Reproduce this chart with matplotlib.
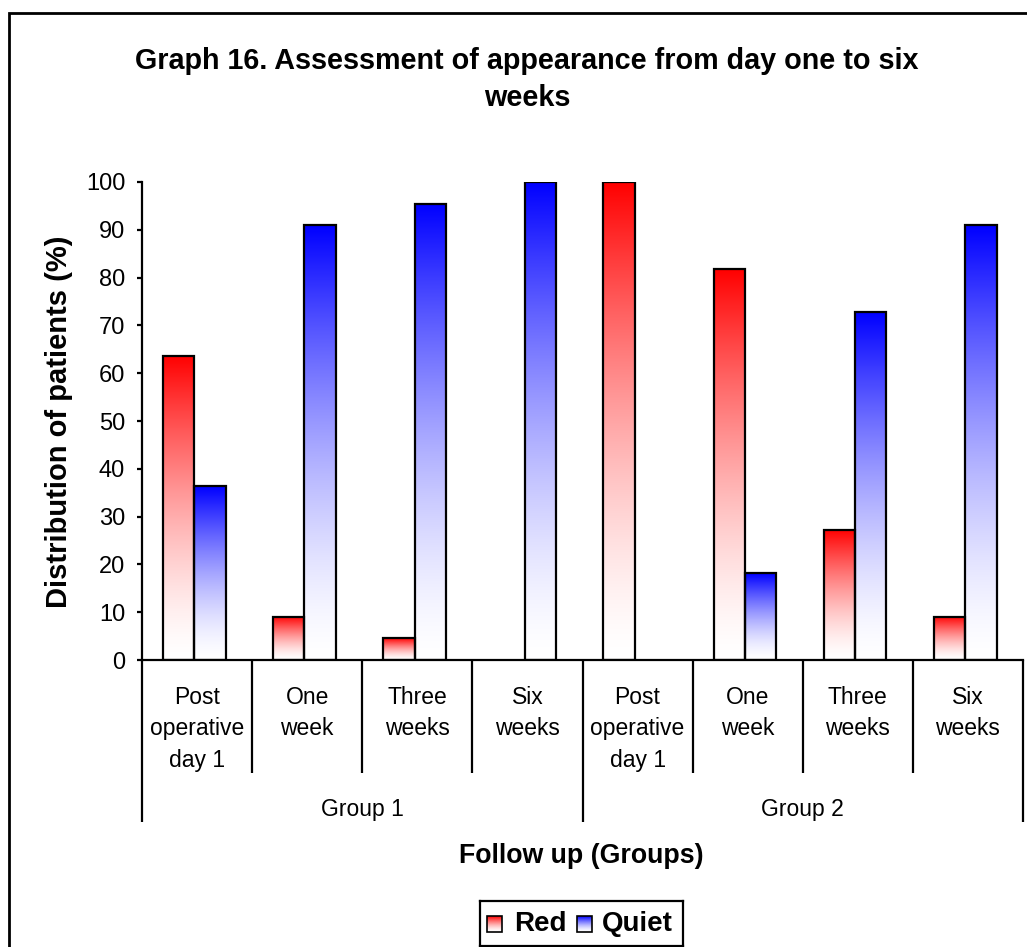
import numpy as np
import matplotlib
matplotlib.use("Agg")
import matplotlib.pyplot as plt
from matplotlib.patches import Rectangle
from matplotlib.colors import to_rgb

plt.rcParams['font.family'] = ['Liberation Sans', 'DejaVu Sans']

# ---- data ----
periods = ["Post\noperative\nday 1", "One\nweek", "Three\nweeks", "Six\nweeks"]
groups = ["Group 1", "Group 2"]
red_pct = [63.6, 9.1, 4.5, 0.0, 100.0, 81.8, 27.3, 9.1]
quiet_pct = [36.4, 90.9, 95.5, 100.0, 0.0, 18.2, 72.7, 90.9]
series_names = ["Red", "Quiet"]
series_colors = ["#ff0000", "#0000ff"]
y_ticks = list(range(0, 101, 10))

W, H = 1027, 947
fig = plt.figure(figsize=(W / 100, H / 100), dpi=100)


def fy(p):
    """pixel row -> figure fraction"""
    return 1 - p / H


def ramp(color, n=256):
    """white (bottom) to full colour (top) vertical fill"""
    c = np.array(to_rgb(color))
    t = np.linspace(0, 1, n)[:, None] ** 1.5
    return ((1 - t) * np.ones(3) + t * c)[:, None, :]


# outer chart frame
fig.patches.append(Rectangle((9 / W, -0.1), 1.2, fy(13) + 0.1,
                             transform=fig.transFigure, fill=False,
                             edgecolor="black", lw=2, zorder=0))

ax_l, ax_r, ax_t, ax_b = 142, 1023, 182, 660
ax = fig.add_axes([ax_l / W, fy(ax_b), (ax_r - ax_l) / W, (ax_b - ax_t) / H])
ax.set_facecolor("none")

n_cat = len(red_pct)


def gradient_bar(ax, left, width, height, color):
    if height <= 0:
        return
    ax.imshow(ramp(color), extent=[left, left + width, 0, height], origin="lower",
              aspect="auto", interpolation="bilinear", zorder=2)
    ax.add_patch(Rectangle((left, 0), width, height, fill=False,
                           edgecolor="black", lw=1.6, zorder=3))


bar_w = 0.285
for i in range(n_cat):
    gradient_bar(ax, i + 0.19, bar_w, red_pct[i], series_colors[0])
    gradient_bar(ax, i + 0.19 + bar_w, bar_w, quiet_pct[i], series_colors[1])

ax.set_xlim(0, n_cat)
ax.set_ylim(0, 100)

for s in ["top", "right"]:
    ax.spines[s].set_visible(False)
for s in ["left", "bottom"]:
    ax.spines[s].set_linewidth(1.6)

ax.set_yticks(y_ticks)
ax.tick_params(axis="y", direction="out", length=3.6, width=1.6,
               labelsize=17, pad=8.5)
ax.set_xticks([])

# multi-level category axis
px = 1 / (ax_b - ax_t)  # one pixel in axes-fraction units
xt = ax.get_xaxis_transform()
for i in range(n_cat + 1):
    is_group_edge = (i % len(periods) == 0)
    depth = (822 - ax_b) if is_group_edge else (773 - ax_b)
    ax.plot([i, i], [0, -depth * px], transform=xt, color="black", lw=1.6,
            clip_on=False, solid_capstyle="butt")
line_rows = [697, 728, 760]
for i in range(n_cat):
    for k, line in enumerate(periods[i % len(periods)].split("\n")):
        ax.text(i + 0.5, -(line_rows[k] - ax_b) * px, line, transform=xt,
                ha="center", va="center", fontsize=16.5)
for g, name in enumerate(groups):
    ax.text(len(periods) * (g + 0.5), -(809 - ax_b) * px, name, transform=xt,
            ha="center", va="center", fontsize=16.5)

# titles
title_lines = ["Graph 16. Assessment of appearance from day one to six", "weeks"]
for line, base in zip(title_lines, [69, 106]):
    fig.text(527 / W, fy(base), line, ha="center", va="baseline",
             fontsize=20.7, fontweight="bold")
fig.text(581.5 / W, fy(863), "Follow up (Groups)", ha="center", va="baseline",
         fontsize=19.3, fontweight="bold")
fig.text(59 / W, fy(422), "Distribution of patients (%)", ha="center",
         va="center", rotation=90, fontsize=21, fontweight="bold")

# legend
lg_l, lg_r, lg_t, lg_b = 480, 683, 901, 946
lax = fig.add_axes([lg_l / W, fy(lg_b), (lg_r - lg_l) / W, (lg_b - lg_t) / H])
lax.set_xticks([])
lax.set_yticks([])
for s in lax.spines.values():
    s.set_linewidth(1.6)
sw_x = [487, 577]
tx_x = [514, 602]
for name, col, sx, tx in zip(series_names, series_colors, sw_x, tx_x):
    lax.imshow(ramp(col, 64), extent=[sx, sx + 15, 932, 916], origin="lower",
               aspect="auto", interpolation="bilinear")
    lax.add_patch(Rectangle((sx, 916), 15, 16, fill=False, edgecolor="black", lw=1.2))
    lax.text(tx, 924, name, ha="left", va="center", fontsize=20, fontweight="bold")
lax.set_xlim(lg_l, lg_r)
lax.set_ylim(lg_b, lg_t)

fig.savefig("out.png", dpi=100)
